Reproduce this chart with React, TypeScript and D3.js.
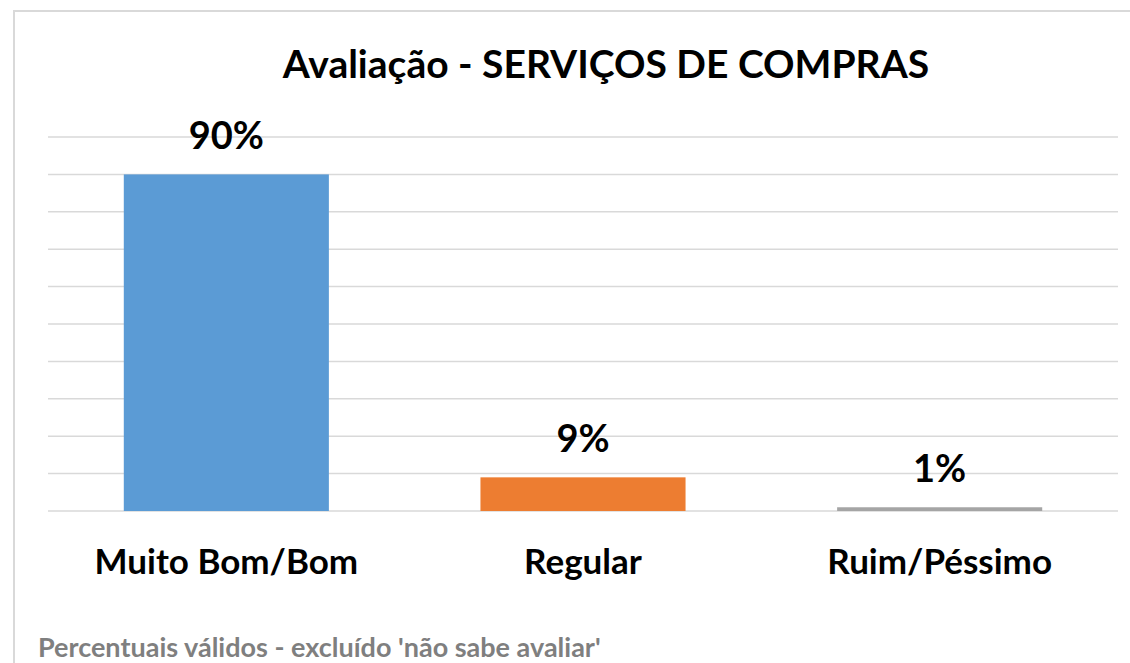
import React, { useRef, useEffect } from "react";
import * as d3 from "d3";

const categories = ["Muito Bom/Bom", "Regular", "Ruim/Péssimo"];
const values = [90, 9, 1];
const barColors = ["#5B9BD5", "#ED7D31", "#A5A5A5"];
const yTicks = [0, 10, 20, 30, 40, 50, 60, 70, 80, 90, 100];
const title = "Avaliação - SERVIÇOS DE COMPRAS";
const footnote = "Percentuais válidos - excluído 'não sabe avaliar'";

const FONT = "Lato, 'Open Sans', sans-serif";

const App: React.FC = () => {
  const ref = useRef<HTMLDivElement | null>(null);

  useEffect(() => {
    if (!ref.current) return;
    const container = ref.current;
    d3.select(container).selectAll("svg").remove();

    const width = 1130;
    const height = 663;
    const plot = { left: 48, right: 1118, top: 137, bottom: 511 };

    const svg = d3
      .select(container)
      .append("svg")
      .attr("width", width)
      .attr("height", height)
      .style("display", "block")
      .style("font-family", FONT);

    svg.append("rect").attr("width", width).attr("height", height).attr("fill", "#fff");

    // chart frame (cropped on the right and bottom)
    svg
      .append("rect")
      .attr("x", 14)
      .attr("y", 11)
      .attr("width", 1140)
      .attr("height", 680)
      .attr("fill", "none")
      .attr("stroke", "#D9D9D9")
      .attr("stroke-width", 2);

    const x = d3
      .scaleBand()
      .domain(categories)
      .range([plot.left, plot.right])
      .paddingInner(0.425)
      .paddingOuter(0.2125);

    const y = d3.scaleLinear().domain([0, 100]).range([plot.bottom, plot.top]);

    // gridlines
    svg
      .append("g")
      .selectAll("line")
      .data(yTicks)
      .join("line")
      .attr("x1", plot.left)
      .attr("x2", plot.right)
      .attr("y1", (d) => y(d))
      .attr("y2", (d) => y(d))
      .attr("stroke", "#D9D9D9")
      .attr("stroke-width", 1.5);

    // bars
    svg
      .append("g")
      .selectAll("rect")
      .data(values)
      .join("rect")
      .attr("x", (_, i) => x(categories[i])!)
      .attr("y", (d) => y(d))
      .attr("width", x.bandwidth())
      .attr("height", (d) => y(0) - y(d))
      .attr("fill", (_, i) => barColors[i]);

    // value labels
    svg
      .append("g")
      .selectAll("text")
      .data(values)
      .join("text")
      .attr("x", (_, i) => x(categories[i])! + x.bandwidth() / 2)
      .attr("y", (d) => y(d) - 25)
      .attr("text-anchor", "middle")
      .attr("font-weight", "bold")
      .attr("font-size", 38)
      .attr("fill", "#000")
      .text((d) => `${d}%`);

    // category labels
    svg
      .append("g")
      .selectAll("text")
      .data(categories)
      .join("text")
      .attr("x", (d) => x(d)! + x.bandwidth() / 2)
      .attr("y", 574)
      .attr("text-anchor", "middle")
      .attr("font-weight", "bold")
      .attr("font-size", 35)
      .attr("fill", "#000")
      .text((d) => d);

    svg
      .append("text")
      .attr("x", 606)
      .attr("y", 78)
      .attr("text-anchor", "middle")
      .attr("font-weight", "bold")
      .attr("font-size", 39)
      .attr("fill", "#000")
      .text(title);

    svg
      .append("text")
      .attr("x", 38)
      .attr("y", 657)
      .attr("font-weight", "bold")
      .attr("font-size", 27)
      .attr("fill", "#7F7F7F")
      .text(footnote);
  }, []);

  return (
    <div
      ref={ref}
      style={{ position: "absolute", left: 0, top: 0, width: 1130, height: 663 }}
    />
  );
};

export default App;
